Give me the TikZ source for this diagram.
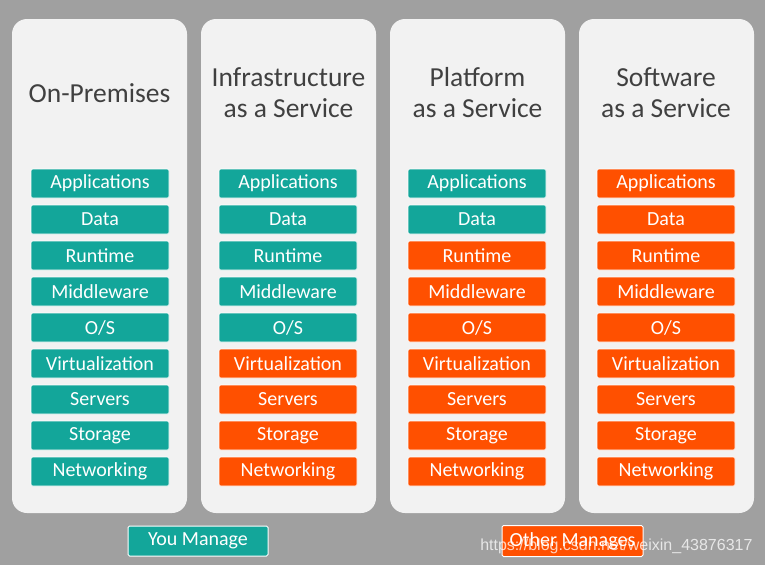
\documentclass[tikz,border=0pt]{standalone}
\usepackage{fontspec}
\setmainfont{Carlito}
\newfontfamily\wmfont{Liberation Sans}
\definecolor{bggray}{RGB}{160,160,160}
\definecolor{panel}{RGB}{242,242,242}
\definecolor{teal}{RGB}{19,166,154}
\definecolor{orng}{RGB}{255,80,0}
\definecolor{titlec}{RGB}{64,64,64}
\tikzset{
  panelbox/.style={fill=panel, draw=none, rounded corners=15pt},
  layer/.style={minimum width=138pt, minimum height=29pt, inner sep=0pt, rounded corners=1.5pt,
     text=white, font=\fontsize{20}{22}\selectfont, draw=white, line width=0.6pt},
  you/.style={layer, fill=teal},
  oth/.style={layer, fill=orng},
  ttl/.style={text=titlec, font=\fontsize{27.5}{31}\selectfont, align=center},
}
\begin{document}
\begin{tikzpicture}[x=1pt,y=-1pt]
\fill[bggray] (0,0) rectangle (765,565);
\useasboundingbox (0,0) rectangle (765,565);
% panels
\foreach \i/\x in {1/12,2/201,3/390,4/579}{
  \fill[panelbox] (\x,19) rectangle ++(175,494);
}
\node[ttl] (t1) at (99.5,93) {On-Premises};
\node[ttl] (t2) at (288.5,93) {Infrastructure\\as a Service};
\node[ttl] (t3) at (477.5,93) {Platform\\as a Service};
\node[ttl] (t4) at (666,93) {Software\\as a Service};
% layers
\def\names{{"Applications","Data","Runtime","Middleware","O/S","Virtualization","Servers","Storage","Networking"}}
\foreach \k in {0,...,8}{
  \pgfmathsetmacro{\yy}{183.5+36*\k}
  \pgfmathparse{\names[\k]}\edef\nm{\pgfmathresult}
  \node[you] (a\k) at (100,\yy) {\nm};
  \ifnum\k<5 \node[you] (b\k) at (288,\yy) {\nm};
  \else \node[oth] (b\k) at (288,\yy) {\nm}; \fi
  \ifnum\k<2 \node[you] (c\k) at (477,\yy) {\nm};
  \else \node[oth] (c\k) at (477,\yy) {\nm}; \fi
  \node[oth] (d\k) at (666,\yy) {\nm};
}
% legend
\node[you, minimum width=140pt, minimum height=30pt, line width=1pt] (ym) at (198,541) {You Manage};
\node[oth, minimum width=141pt, minimum height=31pt, line width=1pt] (om) at (572.5,541) {Other Manages};
\node[text=white, opacity=0.75, font=\wmfont\fontsize{16}{18}\selectfont, anchor=east] (wm) at (756,546) {https://blog.csdn.net/weixin\_43876317};
\end{tikzpicture}
\end{document}
